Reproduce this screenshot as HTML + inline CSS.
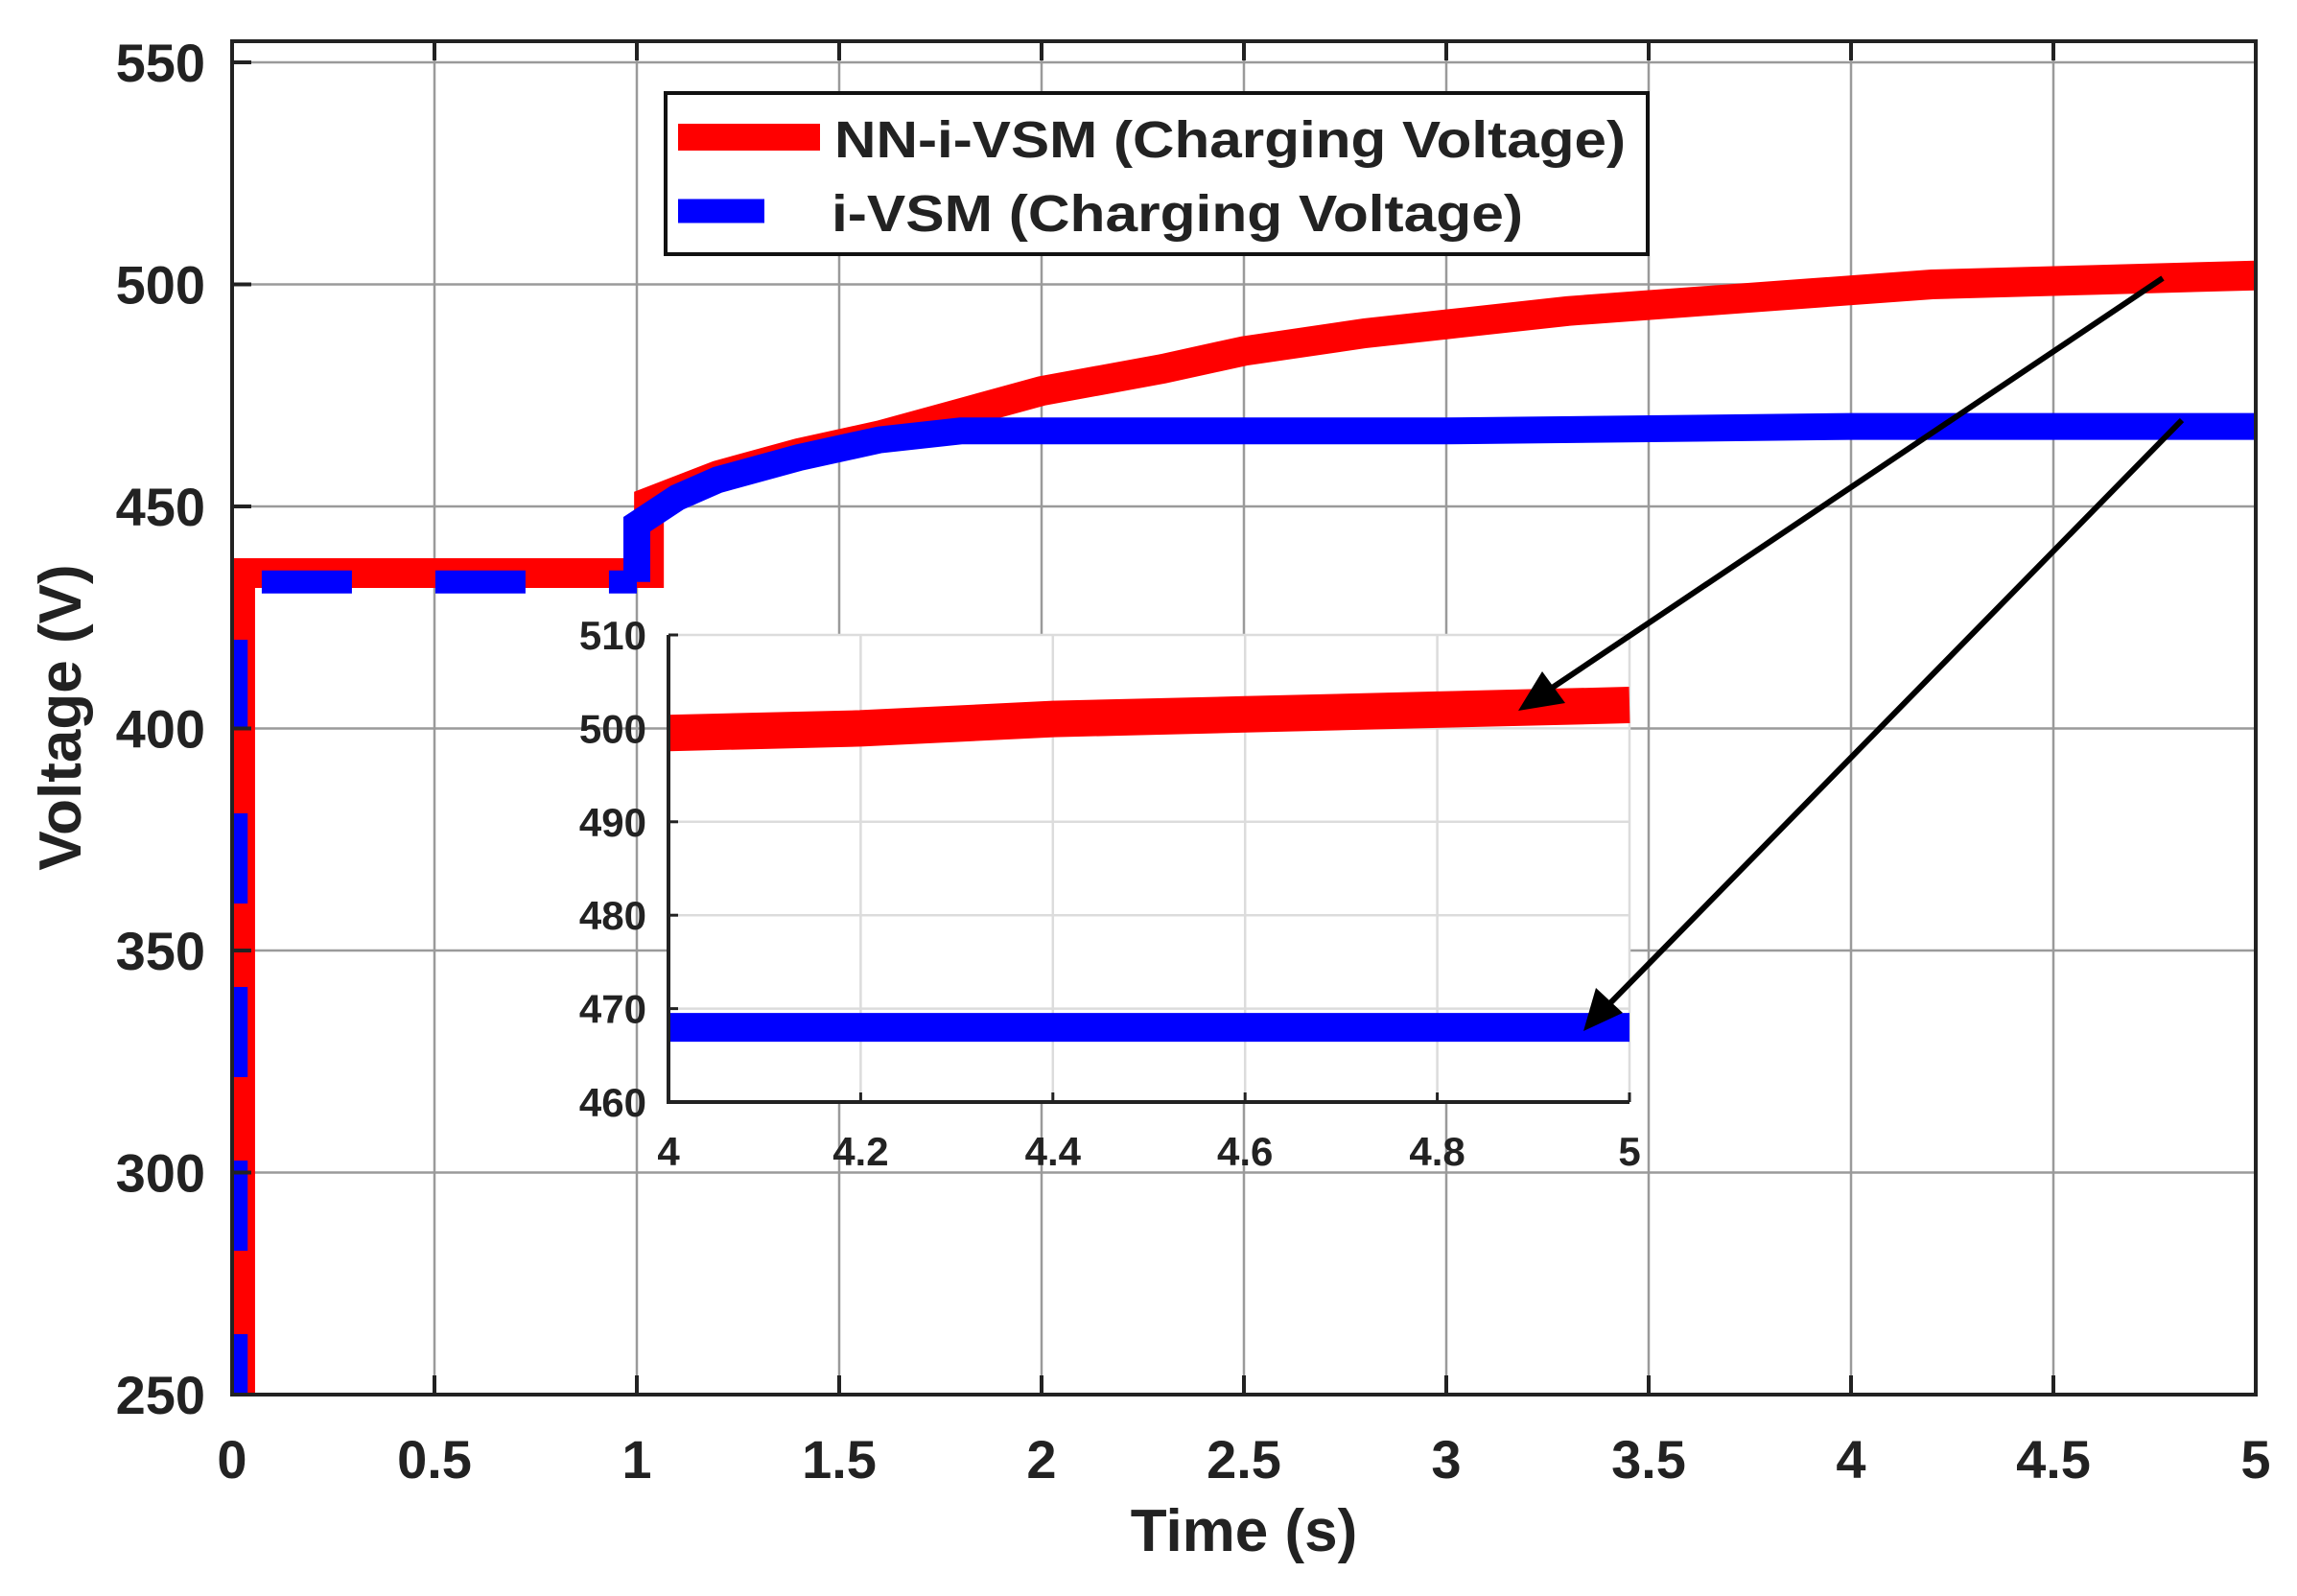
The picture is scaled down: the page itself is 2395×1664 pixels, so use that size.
<!DOCTYPE html>
<html><head><meta charset="utf-8">
<style>
html,body{margin:0;padding:0;background:#fff;}
svg{display:block;font-family:"Liberation Sans",Arial,sans-serif;font-weight:bold;}
</style></head>
<body>
<svg id="chart" width="2395" height="1664" viewBox="0 0 2395 1664" xmlns="http://www.w3.org/2000/svg">
<g id="main-grid"></g>
<g id="main-series"></g>
<rect x="242" y="43" width="2110" height="1411" fill="none" stroke="#222" stroke-width="4"/>
<g id="main-ticks"></g>
<text x="1297" y="1617" font-size="62" text-anchor="middle" fill="#222">Time (s)</text>
<text x="0" y="0" font-size="62" text-anchor="middle" fill="#222" transform="translate(84,748) rotate(-90)">Voltage (V)</text>
<g>
  <rect x="694" y="97" width="1024" height="168" fill="#fff" stroke="#111" stroke-width="4"/>
  <line x1="707" y1="143" x2="855" y2="143" stroke="#ff0000" stroke-width="28"/>
  <text x="870" y="164" font-size="54" fill="#222" textLength="825" lengthAdjust="spacingAndGlyphs">NN-i-VSM (Charging Voltage)</text>
  <line x1="707" y1="220" x2="797" y2="220" stroke="#0000ff" stroke-width="25"/>
  <text x="867" y="241" font-size="54" fill="#222" textLength="721" lengthAdjust="spacingAndGlyphs">i-VSM (Charging Voltage)</text>
</g>
<g id="inset"></g>
<g stroke="#000" stroke-width="6" fill="#000">
  <line x1="2255" y1="290" x2="1605" y2="726"/>
  <polygon points="1583,741 1608,700 1632,733" stroke="none"/>
  <line x1="2275" y1="438" x2="1668" y2="1057"/>
  <polygon points="1651,1075 1664,1030 1692,1056" stroke="none"/>
</g>
</svg>
<script>
const xTicks = [0,0.5,1,1.5,2,2.5,3,3.5,4,4.5,5];
const xTickLabels = ["0","0.5","1","1.5","2","2.5","3","3.5","4","4.5","5"];
const yTicks = [250,300,350,400,450,500,550];
const yTickLabels = ["250","300","350","400","450","500","550"];
const redT = [0.02,0.02,1.03,1.03,1.2,1.4,1.6,1.8,2.0,2.3,2.5,2.8,3.0,3.3,3.6,3.9,4.2,4.6,5.0];
const redV = [250,435,435,451,457,462,466,471,476,481,485,489,491,494,496,498,500,501,502];
const blueDashT = [0.01,0.01,1.0];
const blueDashV = [250,433,433];
const blueT = [1.0,1.0,1.1,1.2,1.4,1.6,1.8,2.0,3.0,4.0,5.0];
const blueV = [433,446,452,456,461,465,467,467,467,468,468];
const insetXTicks = [4,4.2,4.4,4.6,4.8,5];
const insetXTickLabels = ["4","4.2","4.4","4.6","4.8","5"];
const insetYTicks = [460,470,480,490,500,510];
const insetYTickLabels = ["460","470","480","490","500","510"];
const insetRedT = [4,4.2,4.4,4.6,4.8,5];
const insetRedV = [499.5,500,501,501.5,502,502.5];
const insetBlueT = [4,4.2,4.4,4.6,4.8,5];
const insetBlueV = [468,468,468,468,468,468];

const NS="http://www.w3.org/2000/svg";
function mk(tag, attrs, parent){const e=document.createElementNS(NS,tag);for(const k in attrs)e.setAttribute(k,attrs[k]);parent.appendChild(e);return e;}
const X0=242,X1=2352,Y0=1454,Y1=65;
const sx=t=>X0+(t-0)/(5-0)*(X1-X0);
const sy=v=>Y0-(v-250)/(550-250)*(Y0-Y1);
const grid=document.getElementById('main-grid');
const ticks=document.getElementById('main-ticks');
const series=document.getElementById('main-series');
xTicks.forEach((t,i)=>{
  const g=mk('line',{x1:sx(t),x2:sx(t),y1:43,y2:Y0,stroke:'#9a9a9a','stroke-width':2.5},grid);
  
  
  const tk=mk('line',{x1:sx(t),x2:sx(t),y1:Y0,y2:Y0-20,stroke:'#222','stroke-width':4},ticks);
  
  
  const tk2=mk('line',{x1:sx(t),x2:sx(t),y1:43,y2:63,stroke:'#222','stroke-width':4},ticks);
  
  
  const lb=mk('text',{x:sx(t),y:1541,'font-size':56,'text-anchor':'middle',fill:'#222'},ticks);
  lb.textContent=xTickLabels[i];
  
  
});
yTicks.forEach((v,i)=>{
  const g=mk('line',{x1:X0,x2:X1,y1:sy(v),y2:sy(v),stroke:'#9a9a9a','stroke-width':2.5},grid);
  
  
  const tk=mk('line',{x1:X0,x2:X0+20,y1:sy(v),y2:sy(v),stroke:'#222','stroke-width':4},ticks);
  
  
  const lb=mk('text',{x:214,y:sy(v)+20,'font-size':56,'text-anchor':'end',fill:'#222'},ticks);
  lb.textContent=yTickLabels[i];
  
  
});
const cp=mk('clipPath',{id:'mainclip'},document.getElementById('chart'));
mk('rect',{x:X0,y:43,width:X1-X0,height:Y0-43},cp);
series.setAttribute('clip-path','url(#mainclip)');
const rp=mk('polyline',{points:redT.map((t,i)=>sx(t)+','+sy(redV[i])).join(' '),fill:'none',stroke:'#ff0000','stroke-width':31,'stroke-linejoin':'miter'},series);


const bd=mk('polyline',{points:blueDashT.map((t,i)=>sx(t)+','+sy(blueDashV[i])).join(' '),fill:'none',stroke:'#0000ff','stroke-width':24,'stroke-dasharray':'94 87','stroke-dashoffset':'-150'},series);


const bp=mk('polyline',{points:blueT.map((t,i)=>sx(t)+','+sy(blueV[i])).join(' '),fill:'none',stroke:'#0000ff','stroke-width':28},series);



// inset
const inset=document.getElementById('inset');
const IX0=697,IX1=1699,IY0=1149,IY1=662;
const ix=t=>IX0+(t-4)/(5-4)*(IX1-IX0);
const iy=v=>IY0-(v-460)/(510-460)*(IY0-IY1);
const bg=mk('rect',{x:IX0,y:IY1,width:IX1-IX0,height:IY0-IY1,fill:'#fff'},inset);


insetXTicks.forEach((t,i)=>{
  const g=mk('line',{x1:ix(t),x2:ix(t),y1:IY1,y2:IY0,stroke:'#dcdcdc','stroke-width':2.5},inset);
  
  
  const tk=mk('line',{x1:ix(t),x2:ix(t),y1:IY0,y2:IY0-10,stroke:'#222','stroke-width':3},inset);
  
  
  const lb=mk('text',{x:ix(t),y:1215,'font-size':42,'text-anchor':'middle',fill:'#222'},inset);
  lb.textContent=insetXTickLabels[i];
  
  
});
insetYTicks.forEach((v,i)=>{
  const g=mk('line',{x1:IX0,x2:IX1,y1:iy(v),y2:iy(v),stroke:'#dcdcdc','stroke-width':2.5},inset);
  
  
  const tk=mk('line',{x1:IX0,x2:IX0+10,y1:iy(v),y2:iy(v),stroke:'#222','stroke-width':3},inset);
  
  
  const lb=mk('text',{x:674,y:iy(v)+15,'font-size':42,'text-anchor':'end',fill:'#222'},inset);
  lb.textContent=insetYTickLabels[i];
  
  
});
const ir=mk('polyline',{points:insetRedT.map((t,i)=>ix(t)+','+iy(insetRedV[i])).join(' '),fill:'none',stroke:'#ff0000','stroke-width':38},inset);


const ib=mk('polyline',{points:insetBlueT.map((t,i)=>ix(t)+','+iy(insetBlueV[i])).join(' '),fill:'none',stroke:'#0000ff','stroke-width':30},inset);


const ax=mk('polyline',{points:`${IX0},${IY1} ${IX0},${IY0} ${IX1},${IY0}`,fill:'none',stroke:'#222','stroke-width':4},inset);


</script>
</body></html>
